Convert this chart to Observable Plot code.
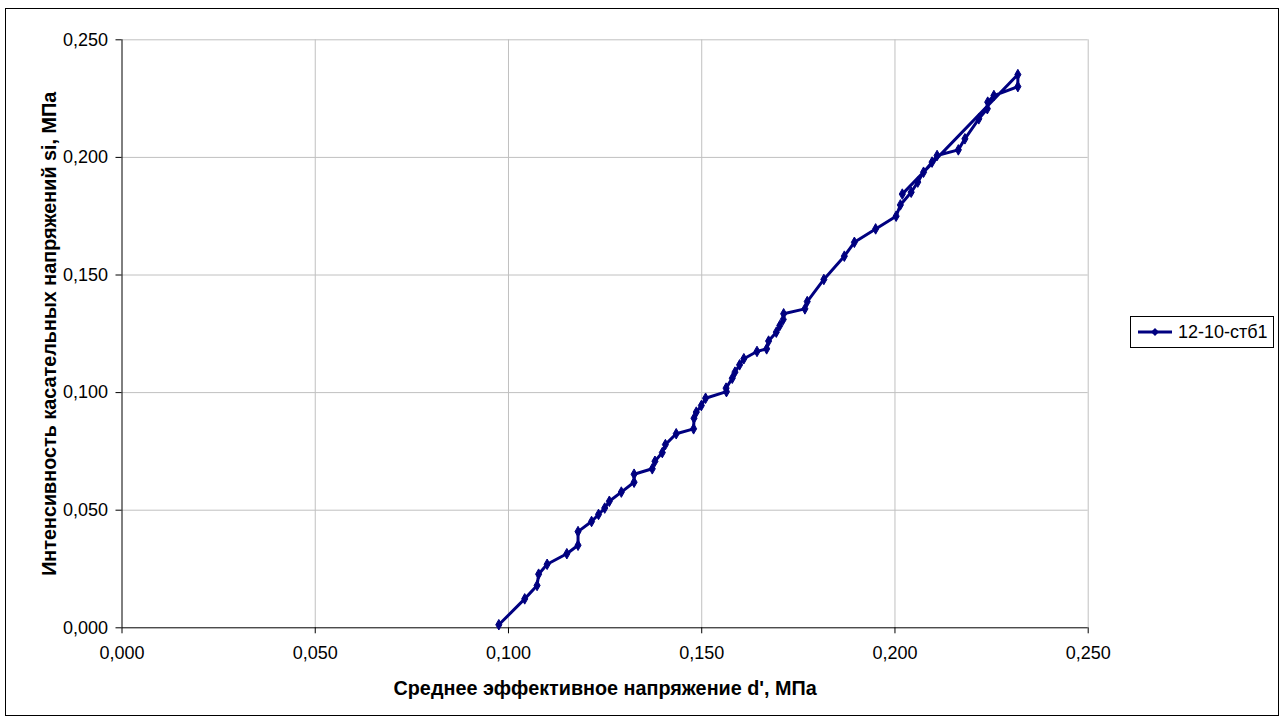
<!DOCTYPE html>
<html>
<head>
<meta charset="utf-8">
<script src="https://cdn.jsdelivr.net/npm/d3@7"></script>
<script src="https://cdn.jsdelivr.net/npm/@observablehq/plot@0.6"></script>
<style>
  html, body { margin: 0; padding: 0; background: #fff; }
  #wrap { position: relative; width: 1287px; height: 719px; overflow: hidden; }
  #border { position: absolute; left: 5px; top: 8px; width: 1274px; height: 708px; border: 1.5px solid #000; box-sizing: border-box; pointer-events: none; }
  #legend { position: absolute; left: 1130px; top: 316px; width: 144px; height: 32px; border: 1px solid #000; box-sizing: border-box; background: #fff;
            font-family: "Liberation Sans", Arial, sans-serif; font-size: 18px; display: flex; align-items: center; }
  #legend svg { margin-left: 6px; }
  #legend span { margin-left: 5px; }
</style>
</head>
<body>
<div id="wrap">
  <div id="chart"></div>
  <div id="border"></div>
  <div id="legend"></div>
</div>
<script>
// Series "12-10-стб1": mean effective stress d' (MPa) vs shear stress intensity si (MPa)
const seriesName = "12-10-стб1";
const xValues = [
  0.0975, 0.1042, 0.1074, 0.1078, 0.1100, 0.1151, 0.1180, 0.1180, 0.1215, 0.1233,
  0.1249, 0.1261, 0.1292, 0.1325, 0.1325, 0.1372, 0.1379, 0.1398, 0.1406, 0.1434,
  0.1479, 0.1480, 0.1486, 0.1499, 0.1510, 0.1564, 0.1563, 0.1579, 0.1586, 0.1598,
  0.1609, 0.1643, 0.1668, 0.1673, 0.1693, 0.1702, 0.1711, 0.1712, 0.1767, 0.1773,
  0.1816, 0.1869, 0.1895, 0.1950, 0.2003, 0.2014, 0.2042, 0.2059, 0.2074, 0.2096,
  0.2109, 0.2164, 0.2181, 0.2217, 0.2239, 0.2240, 0.2256, 0.2318, 0.2318, 0.2019
];
const yValues = [
  0.0013, 0.0123, 0.0180, 0.0228, 0.0270, 0.0315, 0.0351, 0.0409, 0.0452, 0.0482,
  0.0509, 0.0538, 0.0577, 0.0619, 0.0653, 0.0676, 0.0708, 0.0745, 0.0779, 0.0825,
  0.0846, 0.0891, 0.0917, 0.0945, 0.0976, 0.1004, 0.1019, 0.1061, 0.1087, 0.1118,
  0.1144, 0.1175, 0.1186, 0.1219, 0.1257, 0.1285, 0.1311, 0.1335, 0.1356, 0.1387,
  0.1481, 0.1580, 0.1639, 0.1696, 0.1750, 0.1798, 0.1852, 0.1895, 0.1937, 0.1980,
  0.2008, 0.2032, 0.2079, 0.2164, 0.2207, 0.2235, 0.2263, 0.2301, 0.2352, 0.1844
];
const xTicks = [0, 0.05, 0.10, 0.15, 0.20, 0.25];
const yTicks = [0, 0.05, 0.10, 0.15, 0.20, 0.25];
const xTitle = "Среднее эффективное напряжение d', МПа";
const yTitle = "Интенсивность касательных напряжений si, МПа";

const data = xValues.map((x, i) => ({x, y: yValues[i]}));
const fmt = d => d.toFixed(3).replace(".", ",");
const navy = "#000080";
const font = "'Liberation Sans', Arial, sans-serif";

const chart = Plot.plot({
  width: 1287,
  height: 719,
  marginLeft: 121.5,
  marginRight: 199.3,
  marginTop: 39.3,
  marginBottom: 91.7,
  style: {fontFamily: font, fontSize: "18px", background: "transparent", color: "#000"},
  x: {domain: [0, 0.25]},
  y: {domain: [0, 0.25]},
  marks: [
    Plot.gridX(xTicks.filter(d => d > 0), {stroke: "#c0c0c0", strokeOpacity: 1, strokeWidth: 1}),
    Plot.gridY(yTicks.filter(d => d > 0), {stroke: "#c0c0c0", strokeOpacity: 1, strokeWidth: 1}),
    Plot.ruleX([0], {stroke: "#000", strokeWidth: 1}),
    Plot.ruleY([0], {stroke: "#000", strokeWidth: 1}),
    Plot.axisX({ticks: xTicks, tickFormat: fmt, tickSize: 6, tickPadding: 12, label: null, stroke: "#000", fill: "#000"}),
    Plot.axisY({ticks: yTicks, tickFormat: fmt, tickSize: 6, tickPadding: 8, label: null, stroke: "#000", fill: "#000"}),
    Plot.text([xTitle], {frameAnchor: "bottom", textAnchor: "middle", dy: 67, fontWeight: "bold", fontSize: 19.8, fill: "#000"}),
    Plot.text([yTitle], {frameAnchor: "left", textAnchor: "middle", rotate: -90, dx: -72, fontWeight: "bold", fontSize: 19.8, fill: "#000"}),
    Plot.line(data, {x: "x", y: "y", stroke: navy, strokeWidth: 3, strokeLinejoin: "round"}),
    Plot.dot(data, {x: "x", y: "y", symbol: "diamond", r: 3.2, fill: navy, stroke: navy, strokeWidth: 1})
  ]
});
document.getElementById("chart").appendChild(chart);

// legend
const legend = document.getElementById("legend");
legend.innerHTML = `<svg width="36" height="12"><line x1="1" y1="6" x2="35" y2="6" stroke="${navy}" stroke-width="3"/>` +
  `<path d="M18 2 L22 6 L18 10 L14 6 Z" fill="${navy}"/></svg><span></span>`;
legend.querySelector("span").textContent = seriesName;
</script>
</body>
</html>
